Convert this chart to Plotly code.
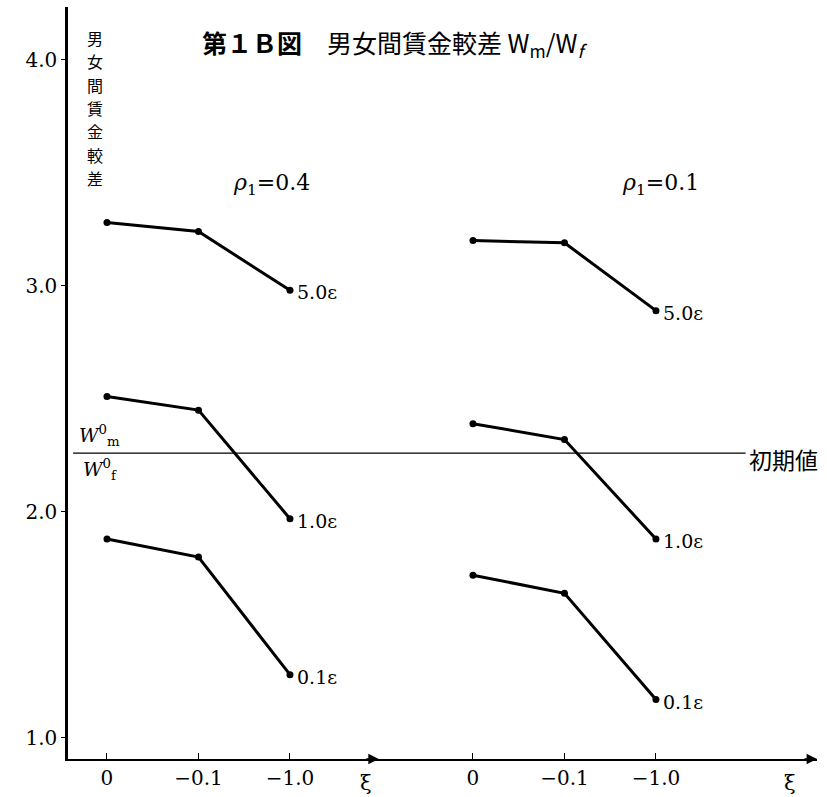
import plotly.graph_objects as go

# Wage gap W_m/W_f against xi, for two values of rho_1 and three multiples of epsilon
xi_labels = ["0", "\u22120.1", "\u22121.0"]
eps_labels = ["5.0\u03b5", "1.0\u03b5", "0.1\u03b5"]

rho_04_values = [
    [3.28, 3.24, 2.98],   # 5.0ε
    [2.51, 2.45, 1.97],   # 1.0ε
    [1.88, 1.80, 1.28],   # 0.1ε
]
rho_01_values = [
    [3.20, 3.19, 2.89],   # 5.0ε
    [2.39, 2.32, 1.88],   # 1.0ε
    [1.72, 1.64, 1.17],   # 0.1ε
]
initial_value = 2.26
y_ticks = [1.0, 2.0, 3.0, 4.0]
y_title = "男女間賃金較差"

panels = [
    {"rho": "<i>\u03c1</i><sub>1</sub>=0.4", "start": 0, "rho_x": 1.8, "values": rho_04_values},
    {"rho": "<i>\u03c1</i><sub>1</sub>=0.1", "start": 4, "rho_x": 2.05, "values": rho_01_values},
]

SERIF = "DejaVu Serif"
CJK = "Noto Sans CJK JP"

fig = go.Figure()
annotations = []

for panel in panels:
    xs = [panel["start"] + i for i in range(len(xi_labels))]
    for label, vals in zip(eps_labels, panel["values"]):
        fig.add_trace(go.Scatter(
            x=xs, y=vals, mode="lines+markers",
            line=dict(color="black", width=3),
            marker=dict(color="black", size=7),
            showlegend=False, hoverinfo="skip",
        ))
        annotations.append(dict(
            x=xs[-1], y=vals[-1], xref="x", yref="y", text=label,
            showarrow=False, xanchor="left", yanchor="middle", xshift=5, yshift=-2,
            font=dict(family=SERIF, size=19, color="black"),
        ))
    annotations.append(dict(
        x=panel["start"] + panel["rho_x"], y=3.45, xref="x", yref="y", text=panel["rho"],
        showarrow=False, font=dict(family=SERIF, size=22, color="black"),
    ))

# initial-value reference line
fig.add_shape(type="line", xref="x", yref="y", x0=-0.37, x1=6.98,
              y0=initial_value, y1=initial_value, line=dict(color="black", width=1.3))
annotations += [
    dict(x=7.0, y=initial_value, xref="x", yref="y", text="初期値", showarrow=False,
         xanchor="left", yanchor="middle", yshift=-6,
         font=dict(family=CJK, size=23, color="black")),
    dict(x=-0.08, y=initial_value, xref="x", yref="y",
         text="<i>W</i><sup>0</sup><sub>m</sub>",
         showarrow=False, yanchor="bottom", yshift=2,
         font=dict(family=SERIF, size=19, color="black")),
    dict(x=-0.08, y=initial_value, xref="x", yref="y",
         text="<i>W</i><sup>0</sup><sub>f</sub>",
         showarrow=False, yanchor="top", yshift=-1,
         font=dict(family=SERIF, size=19, color="black")),
    # title
    dict(x=3.15, y=4.07, xref="x", yref="y",
         text="<b>第１Ｂ図</b>　男女間賃金較差 W<sub>m</sub>/W<sub><i>f</i></sub>",
         showarrow=False, font=dict(family=CJK, size=25, color="black")),
]

# vertical axis title, one character per row
for i, ch in enumerate(y_title):
    annotations.append(dict(
        x=-0.13, y=4.097 - i * 0.1035, xref="x", yref="y", text=ch,
        showarrow=False, yanchor="middle",
        font=dict(family=CJK, size=16, color="black"),
    ))

# xi labels and arrowheads on the horizontal axis
for xpos in [2.83, 7.46]:
    annotations.append(dict(x=xpos, y=0, xref="x", yref="paper", text="\u03be",
                            showarrow=False, yanchor="top", yshift=-10,
                            font=dict(family=SERIF, size=21, color="black")))
for xtip in [2.97, 7.76]:
    annotations.append(dict(x=xtip, y=0, xref="x", yref="paper", ax=-14, ay=0,
                            axref="pixel", ayref="pixel", text="", showarrow=True,
                            arrowhead=2, arrowsize=1.3, arrowwidth=1.6,
                            arrowcolor="black"))

tick_vals = [p["start"] + i for p in panels for i in range(len(xi_labels))]
tick_text = xi_labels * len(panels)

fig.update_layout(
    width=827, height=797,
    margin=dict(l=68, r=10, t=7, b=35),
    paper_bgcolor="white", plot_bgcolor="white",
    annotations=annotations,
    xaxis=dict(range=[-0.426, 7.76], tickvals=tick_vals, ticktext=tick_text,
               showgrid=False, zeroline=False, showline=True, linecolor="black",
               linewidth=1.5, ticks="inside", ticklen=6, tickcolor="black",
               tickfont=dict(family=SERIF, size=20, color="black")),
    yaxis=dict(range=[0.907, 4.233], tickvals=y_ticks,
               ticktext=[f"{v:.1f}" for v in y_ticks],
               showgrid=False, zeroline=False, showline=True, linecolor="black",
               linewidth=2.5, ticks="outside", ticklen=4, tickcolor="black",
               tickfont=dict(family=SERIF, size=20, color="black")),
)

fig.write_html("out.html")
